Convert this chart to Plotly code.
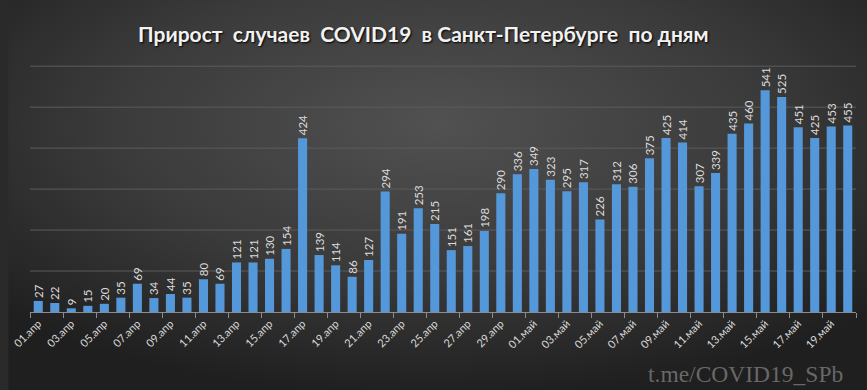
import base64
import plotly.graph_objects as go

days = [f"{d:02d}.апр" for d in range(1, 31)] + [f"{d:02d}.май" for d in range(1, 21)]
cases = [27, 22, 9, 15, 20, 35, 69, 34, 44, 35, 80, 69, 121, 121, 130, 154, 424, 139, 114, 86,
         127, 294, 191, 253, 215, 151, 161, 198, 290, 336, 349, 323, 295, 317, 226, 312, 306, 375,
         425, 414, 307, 339, 435, 460, 541, 525, 451, 425, 453, 455]
grid_values = [100, 200, 300, 400, 500, 600]
title_text = "Прирост\u00a0 случаев\u00a0 COVID19\u00a0 в Санкт-Петербурге\u00a0 по дням"
watermark = "t.me/COVID19_SPb"

W, H = 867, 390
ML, MR, MT, MB = 22, 11, 58, 78
pw, ph = W - ML - MR, H - MT - MB

svg = f'''<svg xmlns="http://www.w3.org/2000/svg" width="{W}" height="{H}" viewBox="0 0 {W} {H}" preserveAspectRatio="none">
<defs><radialGradient id="g" cx="50%" cy="32%" r="70%" fx="50%" fy="32%">
<stop offset="0%" stop-color="#515151"/><stop offset="55%" stop-color="#3a3a3a"/><stop offset="100%" stop-color="#1f1f1f"/>
</radialGradient></defs><rect width="{W}" height="{H}" fill="url(#g)"/></svg>'''
src = "data:image/svg+xml;base64," + base64.b64encode(svg.encode()).decode()

fig = go.Figure(go.Bar(
    x=days, y=cases,
    marker=dict(color="#5498da", line=dict(width=0)),
    text=[str(v) for v in cases],
    textposition="outside",
    textangle=-90,
    constraintext="none",
    cliponaxis=False,
    textfont=dict(family="Lato", size=11.5, color="#dcdcdc"),
    hoverinfo="x+y",
))

shapes = [dict(type="line", xref="paper", yref="y", x0=0, x1=1, y0=v, y1=v,
               line=dict(color="#5c5c5c", width=1), layer="below") for v in grid_values]

fig.update_layout(
    width=W, height=H,
    margin=dict(l=ML, r=MR, t=MT, b=MB),
    paper_bgcolor="#2a2a2a",
    plot_bgcolor="rgba(0,0,0,0)",
    bargap=0.45,
    showlegend=False,
    shapes=shapes,
    images=[dict(source=src, xref="paper", yref="paper",
                 x=-ML / pw, y=1 + MT / ph, sizex=W / pw, sizey=H / ph,
                 xanchor="left", yanchor="top", sizing="stretch", layer="below")],
    annotations=[
        dict(text=f"<b>{title_text}</b>", xref="paper", yref="paper",
             x=(419 - ML) / pw, y=1 + (MT - 34) / ph, xanchor="center", yanchor="middle",
             showarrow=False,
             font=dict(family="Lato", size=21, color="#f2f2f2", shadow="1px 1px 2px #000")),
        dict(text=watermark, xref="paper", yref="paper",
             x=(845 - ML) / pw, y=-(374 - MT - ph) / ph, xanchor="right", yanchor="middle",
             showarrow=False,
             font=dict(family="Liberation Serif", size=23.5, color="#686868")),
    ],
    xaxis=dict(
        type="category",
        tickmode="linear", tick0=0, dtick=2,
        tickson="boundaries",
        ticks="outside", ticklen=5, tickcolor="#8c8c8c",
        tickangle=-45,
        tickfont=dict(family="Lato", size=11, color="#d9d9d9"),
        showline=True, linecolor="#8c8c8c", linewidth=1,
        showgrid=False, zeroline=False,
        range=[-0.5, 49.5],
    ),
    yaxis=dict(
        range=[0, 620],
        showticklabels=False, showgrid=False,
        zeroline=False, showline=False,
    ),
)

fig.write_html("out.html", config={"displayModeBar": False},
               post_script="document.body.style.margin='0';document.body.style.overflow='hidden';")
